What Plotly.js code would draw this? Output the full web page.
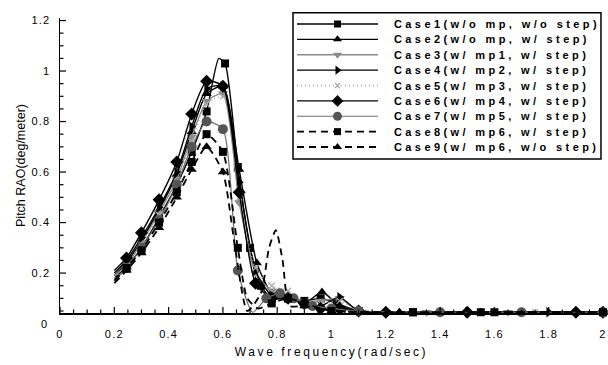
<!DOCTYPE html>
<html>
<head>
<meta charset="utf-8">
<script src="https://cdn.plot.ly/plotly-3.0.1.min.js"></script>
<style>
  html, body { margin: 0; padding: 0; background: #fff; }
  #chart { width: 608px; height: 365px; }
  .xtick text, .ytick text { letter-spacing: 1.2px; }
  .xtitle { letter-spacing: 2.6px; }
  .annotation-text { letter-spacing: 3.4px; }
</style>
</head>
<body>
<div id="chart"></div>
<script>
// ---- data ----
const caseNames = [
  'Case1(w/o mp, w/o step)',
  'Case2(w/o mp, w/ step)',
  'Case3(w/ mp1, w/ step)',
  'Case4(w/ mp2, w/ step)',
  'Case5(w/ mp3, w/ step)',
  'Case6(w/ mp4, w/ step)',
  'Case7(w/ mp5, w/ step)',
  'Case8(w/ mp6, w/ step)',
  'Case9(w/ mp6, w/o step)'
];

const case1X = [0.2,0.245,0.3,0.365,0.43,0.485,0.54,0.585,0.608,0.655,0.7,0.74,0.78,0.84,0.9,0.96,1.02,1.1,1.3,1.55,2.0];
const case1Y = [0.18,0.225,0.3,0.42,0.55,0.68,0.84,1.05,1.03,0.62,0.3,0.15,0.1,0.1,0.09,0.1,0.08,0.05,0.045,0.045,0.045];

const case2X = [0.2,0.245,0.3,0.365,0.43,0.485,0.54,0.6,0.66,0.725,0.78,0.84,0.9,0.965,1.03,1.1,1.25,1.6,2.0];
const case2Y = [0.19,0.24,0.33,0.45,0.59,0.76,0.91,0.94,0.61,0.24,0.12,0.1,0.08,0.125,0.07,0.05,0.045,0.045,0.045];

const case3X = [0.2,0.245,0.3,0.365,0.43,0.485,0.54,0.6,0.66,0.72,0.78,0.84,0.9,0.96,1.03,1.1,1.35,1.65,2.0];
const case3Y = [0.19,0.23,0.32,0.44,0.57,0.74,0.88,0.91,0.48,0.2,0.13,0.1,0.09,0.09,0.1,0.05,0.045,0.045,0.045];

const case4X = [0.2,0.245,0.3,0.365,0.43,0.485,0.54,0.6,0.66,0.72,0.78,0.84,0.9,0.96,1.03,1.1,1.5,1.8,2.0];
const case4Y = [0.2,0.25,0.34,0.46,0.6,0.78,0.93,0.94,0.56,0.21,0.11,0.1,0.08,0.07,0.105,0.05,0.045,0.045,0.045];

const case5X = [0.2,0.245,0.3,0.365,0.43,0.485,0.54,0.6,0.66,0.72,0.78,0.84,0.9,0.96,1.03,1.1,1.4,1.75,2.0];
const case5Y = [0.18,0.23,0.31,0.43,0.56,0.72,0.87,0.9,0.5,0.22,0.15,0.13,0.07,0.08,0.09,0.05,0.045,0.045,0.045];

const case6X = [0.2,0.245,0.3,0.365,0.43,0.485,0.54,0.6,0.66,0.72,0.78,0.84,0.9,0.96,1.03,1.1,1.2,1.5,1.9,2.0];
const case6Y = [0.21,0.26,0.36,0.49,0.64,0.83,0.96,0.94,0.52,0.16,0.1,0.1,0.08,0.06,0.06,0.05,0.045,0.045,0.045,0.045];

const case7X = [0.2,0.245,0.3,0.365,0.43,0.485,0.54,0.6,0.655,0.71,0.76,0.81,0.86,0.93,1.0,1.1,1.4,1.7,2.0];
const case7Y = [0.17,0.22,0.3,0.41,0.55,0.7,0.8,0.77,0.21,0.045,0.1,0.12,0.1,0.07,0.06,0.05,0.045,0.045,0.045];

const case8X = [0.2,0.245,0.3,0.365,0.43,0.485,0.54,0.6,0.655,0.69,0.73,0.78,0.84,0.9,1.0,1.3,1.6,2.0];
const case8Y = [0.17,0.22,0.29,0.4,0.52,0.64,0.75,0.68,0.3,0.1,0.06,0.08,0.1,0.08,0.05,0.045,0.045,0.045];

const case9X = [0.2,0.245,0.3,0.365,0.43,0.485,0.54,0.6,0.645,0.69,0.74,0.77,0.795,0.82,0.845,0.9,1.0,1.25,1.55,2.0];
const case9Y = [0.16,0.21,0.28,0.38,0.5,0.61,0.7,0.6,0.3,0.05,0.12,0.3,0.37,0.25,0.07,0.07,0.05,0.045,0.045,0.045];

const xTickVals = [0,0.2,0.4,0.6,0.8,1,1.2,1.4,1.6,1.8,2];
const xTickText = ['0','0.2','0.4','0.6','0.8','1','1.2','1.4','1.6','1.8','2'];
const yTickVals = [0.2,0.4,0.6,0.8,1,1.2];
const yTickText = ['0.2','0.4','0.6','0.8','1','1.2'];
const yZeroLabel = '0';

const seriesX = [case1X,case2X,case3X,case4X,case5X,case6X,case7X,case8X,case9X];
const seriesY = [case1Y,case2Y,case3Y,case4Y,case5Y,case6Y,case7Y,case8Y,case9Y];

// ---- styles ----
const styles = [
  {color:'#000', width:1.4, dash:'solid', symbol:'square',         mcolor:'#000', msize:8, skip:[0,7]},
  {color:'#000', width:1.4, dash:'solid', symbol:'triangle-up',    mcolor:'#000', msize:9, skip:[0]},
  {color:'#8a8a8a', width:1.3, dash:'solid', symbol:'triangle-down', mcolor:'#8a8a8a', msize:9, skip:[0]},
  {color:'#000', width:1.4, dash:'solid', symbol:'triangle-right', mcolor:'#000', msize:9, skip:[0]},
  {color:'#a8a8a8', width:1.4, dash:'1px,3px', symbol:'x-thin-open', mcolor:'#a8a8a8', msize:6, skip:[0]},
  {color:'#000', width:1.4, dash:'solid', symbol:'diamond',        mcolor:'#000', msize:10, skip:[0]},
  {color:'#6e6e6e', width:1.2, dash:'solid', symbol:'circle',      mcolor:'#555', msize:10, skip:[0,9]},
  {color:'#000', width:1.8, dash:'7px,5px', symbol:'square',       mcolor:'#000', msize:8, skip:[0,9,10]},
  {color:'#000', width:1.8, dash:'7px,5px', symbol:'triangle-up',  mcolor:'#000', msize:9, skip:[0,8,9,10,11,12,13,14]}
];

const FONT = 'Liberation Sans, Arial, Helvetica, sans-serif';
const traces = [];

seriesX.forEach((xs, i) => {
  const st = styles[i];
  const ys = seriesY[i];
  traces.push({
    type:'scatter', mode:'lines', x: xs, y: ys, name: caseNames[i],
    line:{color: st.color, width: st.width, dash: st.dash, shape:'spline', smoothing:0.6},
    showlegend:false, hoverinfo:'skip'
  });
  const mx = xs.filter((_, k) => st.skip.indexOf(k) < 0);
  const my = ys.filter((_, k) => st.skip.indexOf(k) < 0);
  traces.push({
    type:'scatter', mode:'markers', x: mx, y: my, name: caseNames[i],
    marker:{symbol: st.symbol, size: st.msize, color: st.mcolor,
            line:{color: st.mcolor, width: st.symbol.indexOf('open')>=0 ? 1.2 : 0}},
    showlegend:false, hoverinfo:'skip', cliponaxis:false
  });
});

// legend samples drawn on an auxiliary (hidden) subplot: one row per case
const legSampleX = [0, 2];
const legMarkX = [1];
caseNames.forEach((nm, i) => {
  const st = styles[i];
  traces.push({
    type:'scatter', mode:'lines', xaxis:'x2', yaxis:'y2',
    x: legSampleX, y: legSampleX.map(() => i),
    line:{color: st.color, width: st.width, dash: st.dash},
    showlegend:false, hoverinfo:'skip', cliponaxis:false
  });
  traces.push({
    type:'scatter', mode:'markers', xaxis:'x2', yaxis:'y2',
    x: legMarkX, y: legMarkX.map(() => i),
    marker:{symbol: st.symbol, size: st.msize - 1, color: st.mcolor,
            line:{color: st.mcolor, width: st.symbol.indexOf('open')>=0 ? 1.2 : 0}},
    showlegend:false, hoverinfo:'skip', cliponaxis:false
  });
});

const annotations = caseNames.map((nm, i) => ({
  text: nm, xref:'paper', yref:'y2', x:0.6114, y:i,
  xanchor:'left', yanchor:'middle', align:'left', showarrow:false,
  font:{family: FONT, size:11, color:'#000', weight:'bold'}
}));
annotations.push({
  text: yZeroLabel, xref:'paper', yref:'paper', x:-0.012, y:-0.036,
  xanchor:'right', yanchor:'middle', showarrow:false,
  font:{family: FONT, size:11, color:'#000'}
});

// inside tick marks (major at the tick values, minor every 0.05), as pixel-sized shapes
const tickShapes = [];
const minorStep = 0.05;
for (let k = 0; k <= 40; k++) {
  const v = +(k * minorStep).toFixed(3);
  const major = xTickVals.some(t => Math.abs(t - v) < 1e-9);
  tickShapes.push({type:'line', xref:'x', yref:'paper', x0:v, x1:v,
    ysizemode:'pixel', yanchor:0, y0:0, y1: major ? 6 : 3.5,
    line:{color:'#000', width:1.2}, layer:'above'});
}
for (let k = 1; k <= 24; k++) {
  const v = +(k * minorStep).toFixed(3);
  if (v < 0.042 || v > 1.21) continue;
  const major = yTickVals.some(t => Math.abs(t - v) < 1e-9);
  tickShapes.push({type:'line', xref:'paper', yref:'y', y0:v, y1:v,
    xsizemode:'pixel', xanchor:0, x0:0, x1: major ? 6 : 3.5,
    line:{color:'#000', width:1.2}, layer:'above'});
}

const layout = {
  width:608, height:365,
  margin:{l:60, r:5, t:18, b:52},
  paper_bgcolor:'#fff', plot_bgcolor:'#fff',
  showlegend:false,
  font:{family: FONT, color:'#000'},
  xaxis:{
    range:[0,2], tickmode:'array', tickvals: xTickVals, ticktext: xTickText,
    ticks:'', showline:true, linecolor:'#000', linewidth:1.5,
    showgrid:false, zeroline:false, ticklabelstandoff:10,
    tickfont:{family: FONT, size:11, color:'#000'},
    title:{text:'Wave frequency(rad/sec)', font:{family: FONT, size:12, color:'#000'}, standoff:9},
    fixedrange:true
  },
  yaxis:{
    range:[0.042,1.21], tickmode:'array', tickvals: yTickVals, ticktext: yTickText,
    ticks:'', showline:true, linecolor:'#000', linewidth:1.5,
    showgrid:false, zeroline:false, ticklabelstandoff:6,
    tickfont:{family: FONT, size:11, color:'#000'},
    title:{text:'Pitch RAO(deg/meter)', font:{family: FONT, size:12.5, color:'#000'}, standoff:3},
    fixedrange:true
  },
  xaxis2:{domain:[0.4365,0.5856], range:[0,2], visible:false, anchor:'y2', fixedrange:true},
  yaxis2:{domain:[0.5366,1], range:[8.5,-0.39], visible:false, anchor:'x2', fixedrange:true},
  shapes:[{
    type:'rect', xref:'paper', yref:'paper',
    x0:0.4291, x1:0.9963, y0:0.522, y1:1.018,
    line:{color:'#000', width:1.5}, fillcolor:'rgba(0,0,0,0)', layer:'above'
  }].concat(tickShapes),
  annotations: annotations
};

Plotly.newPlot('chart', traces, layout, {displayModeBar:false, staticPlot:true});
</script>
</body>
</html>
